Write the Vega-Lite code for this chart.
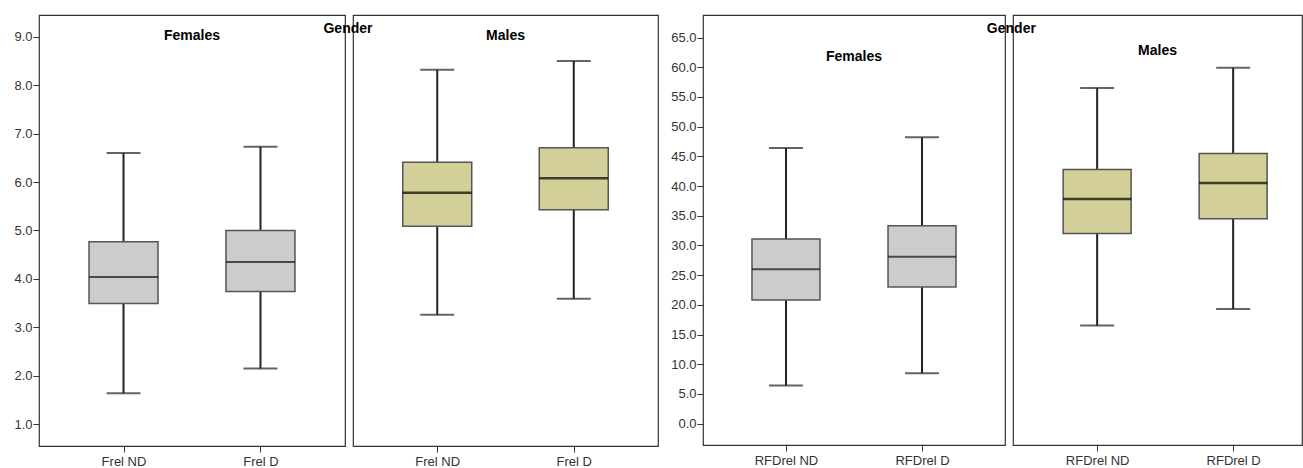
{
  "$schema": "https://vega.github.io/schema/vega-lite/v6.json",
  "padding": {"left": 13, "top": 14, "right": 0, "bottom": 0},
  "background": "white",
  "config": {
    "font": "Liberation Sans",
    "view": {"stroke": "#333333", "strokeWidth": 1.2},
    "title": {"fontSize": 14, "fontWeight": "bold", "color": "#000000", "anchor": "middle"},
    "axis": {"labelFont": "Liberation Sans", "labelFontSize": 13, "labelColor": "#333333", "tickColor": "#333333", "tickSize": 6, "domain": false, "grid": false, "labelPadding": 1, "labelOverlap": false},
    "axisX": {"labelPadding": 3}
  },
  "datasets": {
    "frel": [
      {"gender": "Females", "var": "Frel ND", "lo": 1.64, "q1": 3.49, "med": 4.04, "q3": 4.77, "hi": 6.60},
      {"gender": "Females", "var": "Frel D", "lo": 2.15, "q1": 3.74, "med": 4.35, "q3": 5.00, "hi": 6.73},
      {"gender": "Males", "var": "Frel ND", "lo": 3.26, "q1": 5.09, "med": 5.78, "q3": 6.41, "hi": 8.32},
      {"gender": "Males", "var": "Frel D", "lo": 3.59, "q1": 5.43, "med": 6.08, "q3": 6.71, "hi": 8.50}
    ],
    "rfd": [
      {"gender": "Females", "var": "RFDrel ND", "lo": 6.4, "q1": 20.8, "med": 26.0, "q3": 31.1, "hi": 46.4},
      {"gender": "Females", "var": "RFDrel D", "lo": 8.5, "q1": 23.0, "med": 28.1, "q3": 33.3, "hi": 48.2},
      {"gender": "Males", "var": "RFDrel ND", "lo": 16.5, "q1": 32.0, "med": 37.8, "q3": 42.8, "hi": 56.5},
      {"gender": "Males", "var": "RFDrel D", "lo": 19.3, "q1": 34.5, "med": 40.5, "q3": 45.5, "hi": 59.9}
    ]
  },
  "spacing": 11,
  "hconcat": [
    {
      "title": {"text": "Gender", "offset": -22, "dx": 12},
      "spacing": 6,
      "hconcat": [
        {
          "width": 306, "height": 431,
          "title": {"text": "Females", "offset": -28},
          "data": {"name": "frel"},
          "transform": [{"filter": "datum.gender === 'Females'"}],
          "encoding": {"x": {"field": "var", "type": "nominal", "title": null, "sort": ["Frel ND", "Frel D"], "scale": {"type": "point", "padding": 0.617}, "axis": {"labelAngle": 0}}},
          "layer": [
            {"mark": {"type": "rule", "color": "#222222", "strokeWidth": 2}, "encoding": {"y": {"field": "lo", "type": "quantitative", "title": null, "scale": {"domain": [0.55, 9.45], "nice": false, "zero": false}, "axis": {"values": [1,2,3,4,5,6,7,8,9], "format": ".1f"}}, "y2": {"field": "hi"}}},
            {"mark": {"type": "bar", "size": 69, "fill": "#cccccc", "stroke": "#555555", "strokeWidth": 1.5}, "encoding": {"y": {"field": "q1", "type": "quantitative", "title": null, "axis": {"values": [1,2,3,4,5,6,7,8,9], "format": ".1f"}}, "y2": {"field": "q3"}}},
            {"mark": {"type": "tick", "size": 69, "thickness": 2, "color": "#111111"}, "encoding": {"y": {"field": "med", "type": "quantitative", "title": null, "axis": {"values": [1,2,3,4,5,6,7,8,9], "format": ".1f"}}}},
            {"mark": {"type": "tick", "size": 34, "thickness": 2, "color": "#222222"}, "encoding": {"y": {"field": "lo", "type": "quantitative", "title": null, "axis": {"values": [1,2,3,4,5,6,7,8,9], "format": ".1f"}}}},
            {"mark": {"type": "tick", "size": 34, "thickness": 2, "color": "#222222"}, "encoding": {"y": {"field": "hi", "type": "quantitative", "title": null, "axis": {"values": [1,2,3,4,5,6,7,8,9], "format": ".1f"}}}}
          ]
        },
        {
          "width": 305, "height": 431,
          "title": {"text": "Males", "offset": -28},
          "data": {"name": "frel"},
          "transform": [{"filter": "datum.gender === 'Males'"}],
          "encoding": {"x": {"field": "var", "type": "nominal", "title": null, "sort": ["Frel ND", "Frel D"], "scale": {"type": "point", "padding": 0.617}, "axis": {"labelAngle": 0}}},
          "layer": [
            {"mark": {"type": "rule", "color": "#222222", "strokeWidth": 2}, "encoding": {"y": {"field": "lo", "type": "quantitative", "title": null, "scale": {"domain": [0.55, 9.45], "nice": false, "zero": false}, "axis": null}, "y2": {"field": "hi"}}},
            {"mark": {"type": "bar", "size": 69, "fill": "#d3cf98", "stroke": "#555555", "strokeWidth": 1.5}, "encoding": {"y": {"field": "q1", "type": "quantitative", "title": null, "axis": null}, "y2": {"field": "q3"}}},
            {"mark": {"type": "tick", "size": 69, "thickness": 2.5, "color": "#000000"}, "encoding": {"y": {"field": "med", "type": "quantitative", "title": null, "axis": null}}},
            {"mark": {"type": "tick", "size": 34, "thickness": 2, "color": "#222222"}, "encoding": {"y": {"field": "lo", "type": "quantitative", "title": null, "axis": null}}},
            {"mark": {"type": "tick", "size": 34, "thickness": 2, "color": "#222222"}, "encoding": {"y": {"field": "hi", "type": "quantitative", "title": null, "axis": null}}}
          ]
        }
      ]
    },
    {
      "title": {"text": "Gender", "offset": -22, "dx": 25},
      "spacing": 6,
      "hconcat": [
        {
          "width": 302, "height": 430,
          "title": {"text": "Females", "offset": -49},
          "data": {"name": "rfd"},
          "transform": [{"filter": "datum.gender === 'Females'"}],
          "encoding": {"x": {"field": "var", "type": "nominal", "title": null, "sort": ["RFDrel ND", "RFDrel D"], "scale": {"type": "point", "padding": 0.61}, "axis": {"labelAngle": 0}}},
          "layer": [
            {"mark": {"type": "rule", "color": "#222222", "strokeWidth": 2}, "encoding": {"y": {"field": "lo", "type": "quantitative", "title": null, "scale": {"domain": [-3.6, 68.8], "nice": false, "zero": false}, "axis": {"values": [0,5,10,15,20,25,30,35,40,45,50,55,60,65], "format": ".1f"}}, "y2": {"field": "hi"}}},
            {"mark": {"type": "bar", "size": 68, "fill": "#cccccc", "stroke": "#555555", "strokeWidth": 1.5}, "encoding": {"y": {"field": "q1", "type": "quantitative", "title": null, "axis": {"values": [0,5,10,15,20,25,30,35,40,45,50,55,60,65], "format": ".1f"}}, "y2": {"field": "q3"}}},
            {"mark": {"type": "tick", "size": 68, "thickness": 2, "color": "#111111"}, "encoding": {"y": {"field": "med", "type": "quantitative", "title": null, "axis": {"values": [0,5,10,15,20,25,30,35,40,45,50,55,60,65], "format": ".1f"}}}},
            {"mark": {"type": "tick", "size": 34, "thickness": 2, "color": "#222222"}, "encoding": {"y": {"field": "lo", "type": "quantitative", "title": null, "axis": {"values": [0,5,10,15,20,25,30,35,40,45,50,55,60,65], "format": ".1f"}}}},
            {"mark": {"type": "tick", "size": 34, "thickness": 2, "color": "#222222"}, "encoding": {"y": {"field": "hi", "type": "quantitative", "title": null, "axis": {"values": [0,5,10,15,20,25,30,35,40,45,50,55,60,65], "format": ".1f"}}}}
          ]
        },
        {
          "width": 289, "height": 430,
          "title": {"text": "Males", "offset": -43},
          "data": {"name": "rfd"},
          "transform": [{"filter": "datum.gender === 'Males'"}],
          "encoding": {"x": {"field": "var", "type": "nominal", "title": null, "sort": ["RFDrel ND", "RFDrel D"], "scale": {"type": "point", "padding": 0.5625, "align": 0.55}, "axis": {"labelAngle": 0}}},
          "layer": [
            {"mark": {"type": "rule", "color": "#222222", "strokeWidth": 2}, "encoding": {"y": {"field": "lo", "type": "quantitative", "title": null, "scale": {"domain": [-3.6, 68.8], "nice": false, "zero": false}, "axis": null}, "y2": {"field": "hi"}}},
            {"mark": {"type": "bar", "size": 68, "fill": "#d3cf98", "stroke": "#555555", "strokeWidth": 1.5}, "encoding": {"y": {"field": "q1", "type": "quantitative", "title": null, "axis": null}, "y2": {"field": "q3"}}},
            {"mark": {"type": "tick", "size": 68, "thickness": 2.5, "color": "#000000"}, "encoding": {"y": {"field": "med", "type": "quantitative", "title": null, "axis": null}}},
            {"mark": {"type": "tick", "size": 34, "thickness": 2, "color": "#222222"}, "encoding": {"y": {"field": "lo", "type": "quantitative", "title": null, "axis": null}}},
            {"mark": {"type": "tick", "size": 34, "thickness": 2, "color": "#222222"}, "encoding": {"y": {"field": "hi", "type": "quantitative", "title": null, "axis": null}}}
          ]
        }
      ]
    }
  ]
}
